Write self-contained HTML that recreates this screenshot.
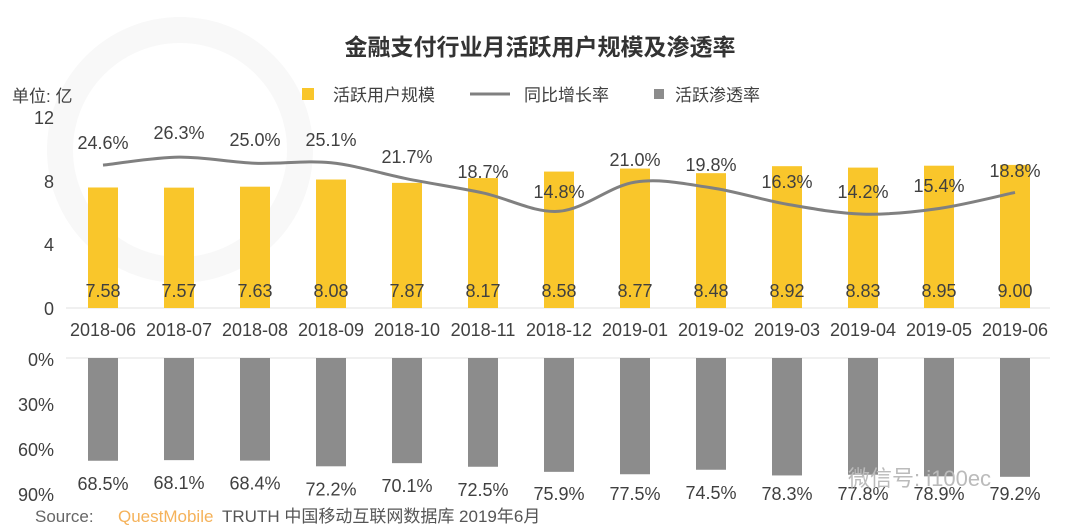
<!DOCTYPE html>
<html><head><meta charset="utf-8"><style>
html,body{margin:0;padding:0;background:#fff;}
svg{display:block;font-family:"Liberation Sans","Noto Sans CJK SC",sans-serif;}
</style></head><body>
<svg id="s" width="1080" height="527" viewBox="0 0 1080 527">
<circle cx="180" cy="150" r="120" fill="none" stroke="#f8f8f8" stroke-width="26"/>
<text x="540" y="55" font-size="23" font-weight="bold" fill="#333" text-anchor="middle">金融支付行业月活跃用户规模及渗透率</text>
<text x="12" y="102" font-size="17" fill="#404040">单位: 亿</text>
<rect x="302" y="88" width="12" height="12" fill="#f9c62b"/>
<text x="333" y="101" font-size="17" fill="#404040">活跃用户规模</text>
<line x1="470" y1="94" x2="510" y2="94" stroke="#808080" stroke-width="3"/>
<text x="524" y="101" font-size="17" fill="#404040">同比增长率</text>
<rect x="654" y="89" width="10" height="10" fill="#8c8c8c"/>
<text x="675" y="101" font-size="17" fill="#404040">活跃渗透率</text>
<g font-size="18" fill="#404040" text-anchor="end">
<text x="54" y="124">12</text><text x="54" y="188">8</text><text x="54" y="251">4</text><text x="54" y="315">0</text>
<text x="54" y="366">0%</text><text x="54" y="411">30%</text><text x="54" y="456">60%</text><text x="54" y="501">90%</text>
</g>
<line x1="66" y1="308" x2="1050" y2="308" stroke="#e0e0e0"/>
<line x1="66" y1="358" x2="1050" y2="358" stroke="#e0e0e0"/>
<g id="g"></g>
<text x="35" y="522" font-size="17" fill="#666">Source:</text>
<text x="118" y="522" font-size="17" fill="#f5b25a">QuestMobile</text>
<text x="222" y="522" font-size="17" fill="#555">TRUTH 中国移动互联网数据库 2019年6月</text>
<text x="848" y="486" font-size="22" fill="#bbb">微信号: i100ec</text>
</svg>
<script>
var v=[7.58,7.57,7.63,8.08,7.87,8.17,8.58,8.77,8.48,8.92,8.83,8.95,9.00];
var r=[24.6,26.3,25.0,25.1,21.7,18.7,14.8,21.0,19.8,16.3,14.2,15.4,18.8];
var ry=[143,133,140,140,157,172,192,160,165,182,192,186,171];
var lx=["2018-06","2018-07","2018-08","2018-09","2018-10","2018-11","2018-12","2019-01","2019-02","2019-03","2019-04","2019-05","2019-06"];
var p=[68.5,68.1,68.4,72.2,70.1,72.5,75.9,77.5,74.5,78.3,77.8,78.9,79.2];
var h='';var pts=[];
for(var i=0;i<13;i++){var x=103+76*i;var t=308-v[i]*15.9;
h+='<rect x="'+(x-15)+'" y="'+t+'" width="30" height="'+(308-t)+'" fill="#f9c62b"/>';
h+='<text x="'+x+'" y="297" font-size="18" fill="#404040" text-anchor="middle">'+v[i].toFixed(2)+'</text>';
h+='<text x="'+x+'" y="336" font-size="18" fill="#404040" text-anchor="middle">'+lx[i]+'</text>';
var b=358+p[i]*1.5;
h+='<rect x="'+(x-15)+'" y="358" width="30" height="'+(b-358)+'" fill="#8c8c8c"/>';
h+='<text x="'+x+'" y="'+Math.min(b+29,500)+'" font-size="18" fill="#404040" text-anchor="middle">'+p[i].toFixed(1)+'%</text>';
pts.push([x,281-r[i]*4.71]);
h+='<text x="'+x+'" y="'+(ry[i]+6)+'" font-size="18" fill="#404040" text-anchor="middle">'+r[i].toFixed(1)+'%</text>';}
var d='M'+pts[0][0]+','+pts[0][1];
for(var i=0;i<12;i++){var p0=pts[Math.max(i-1,0)],p1=pts[i],p2=pts[i+1],p3=pts[Math.min(i+2,12)];
d+=' C'+(p1[0]+(p2[0]-p0[0])/6)+','+(p1[1]+(p2[1]-p0[1])/6)+' '+(p2[0]-(p3[0]-p1[0])/6)+','+(p2[1]-(p3[1]-p1[1])/6)+' '+p2[0]+','+p2[1];}
h+='<path d="'+d+'" fill="none" stroke="#808080" stroke-width="3"/>';
document.getElementById('g').innerHTML=h;
</script>
</body></html>
